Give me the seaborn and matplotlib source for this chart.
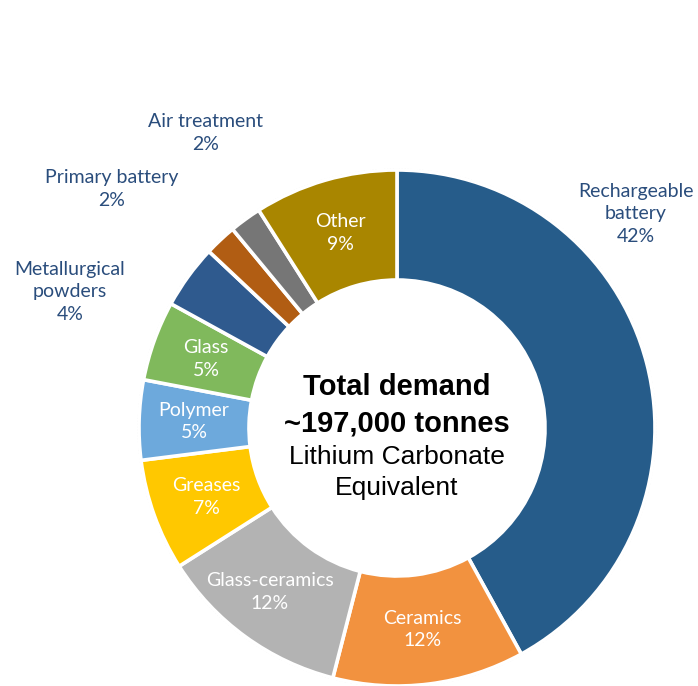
import matplotlib
matplotlib.use("Agg")
import matplotlib.pyplot as plt
import seaborn as sns
import numpy as np

# Lithium end-use demand shares (%), clockwise from 12 o'clock
categories = ["Rechargeable battery", "Ceramics", "Glass-ceramics", "Greases",
              "Polymer", "Glass", "Metallurgical powders", "Primary battery",
              "Air treatment", "Other"]
shares = [42, 12, 12, 7, 5, 5, 4, 2, 2, 9]
colors = ["#265C8A", "#F2923F", "#B3B3B3", "#FFC800", "#6DA9DC",
          "#80B95C", "#2F5A8E", "#B15D13", "#767676", "#A98600"]

# Labels drawn inside the ring vs. next to it
inside = {"Ceramics", "Glass-ceramics", "Greases", "Polymer", "Glass", "Other"}
outside_text = {
    "Rechargeable battery": ("Rechargeable\nbattery", 636, 214),
    "Metallurgical powders": ("Metallurgical\npowders", 70, 292),
    "Primary battery": ("Primary battery", 112, 189),
    "Air treatment": ("Air treatment", 206, 133),
}
center_bold = ["Total demand", "~197,000 tonnes"]
center_plain = ["Lithium Carbonate", "Equivalent"]

sns.set_theme(style="white")
plt.rcParams["font.family"] = ["Lato", "DejaVu Sans"]

W, H = 698, 686
CX, CY, R = 397, 428, 258
fig = plt.figure(figsize=(W / 100, H / 100), dpi=100)
ax = fig.add_axes([(CX - R) / W, (H - CY - R) / H, 2 * R / W, 2 * R / H])

ring = 1 - 148 / 258
wedges, _ = ax.pie(shares, colors=colors, startangle=90, counterclock=False,
                   radius=1, wedgeprops=dict(width=ring, edgecolor="white", linewidth=2.6))
ax.set_xlim(-1, 1)
ax.set_ylim(-1, 1)
ax.set_aspect("equal")
ax.axis("off")

# faint dotted guide rings around the donut
for rr in (1.0, 1 - ring):
    ax.add_patch(plt.Circle((0, 0), rr + 0.004, fill=False, ls=(0, (1.5, 2)),
                            lw=0.6, color="#DDDDDD", zorder=0, clip_on=False))

def px(x, y):
    return (x - CX) / R, (CY - y) / R

label_color = "#2A4D7C"
mid_r = 1 - ring / 2
for w, name, val in zip(wedges, categories, shares):
    if name in inside:
        ang = np.deg2rad((w.theta1 + w.theta2) / 2)
        x, y = mid_r * np.cos(ang), mid_r * np.sin(ang)
        if name == "Glass-ceramics":
            x -= 0.03
        ax.text(x, y, f"{name}\n{val}%", ha="center", va="center", color="white",
                fontsize=14, linespacing=1.4)
    else:
        txt, lx, ly = outside_text[name]
        tx, ty = px(lx, ly)
        ax.text(tx, ty, f"{txt}\n{val}%", ha="center", va="center", color=label_color,
                fontsize=14, linespacing=1.4)

# centre annotation
cfam = ["Liberation Sans", "DejaVu Sans"]
for s, yy in zip(center_bold, (387, 424)):
    ax.text(*px(CX, yy), s, ha="center", va="center", fontsize=21,
            fontweight="bold", family=cfam, color="black")
for s, yy in zip(center_plain, (457, 488)):
    ax.text(*px(CX, yy), s, ha="center", va="center", fontsize=19,
            family=cfam, color="black")

fig.savefig("out.png", dpi=100, facecolor="white")
